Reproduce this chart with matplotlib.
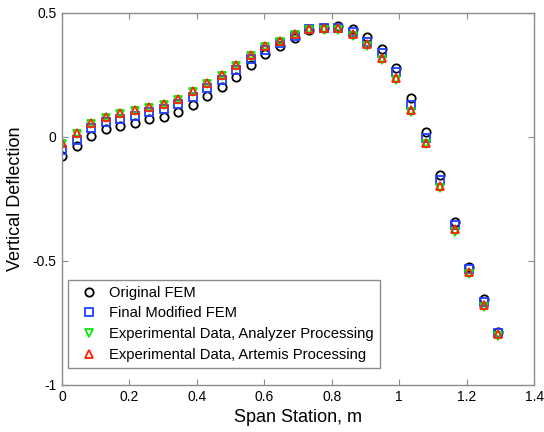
import matplotlib
matplotlib.use("Agg")
import matplotlib.pyplot as plt

plt.rcParams['font.family'] = ['Liberation Sans', 'DejaVu Sans']
plt.rcParams['axes.unicode_minus'] = False

span_station = [0.000, 0.043, 0.086, 0.129, 0.172, 0.216, 0.259, 0.302, 0.345, 0.388,
                0.431, 0.474, 0.517, 0.560, 0.603, 0.647, 0.690, 0.733, 0.776, 0.819,
                0.862, 0.905, 0.948, 0.991, 1.034, 1.078, 1.121, 1.164, 1.207, 1.250, 1.293]

original_fem = [-0.075, -0.036, 0.004, 0.032, 0.044, 0.058, 0.071, 0.082, 0.101, 0.129,
                0.165, 0.200, 0.243, 0.290, 0.333, 0.367, 0.400, 0.431, 0.438, 0.446,
                0.434, 0.404, 0.356, 0.278, 0.157, 0.018, -0.155, -0.341, -0.523, -0.655, -0.785]

final_modified_fem = [-0.051, -0.011, 0.035, 0.060, 0.074, 0.086, 0.099, 0.112, 0.132, 0.163,
                      0.196, 0.228, 0.271, 0.313, 0.352, 0.379, 0.409, 0.434, 0.438, 0.438,
                      0.425, 0.384, 0.337, 0.261, 0.129, -0.005, -0.173, -0.355, -0.534, -0.664, -0.792]

exp_analyzer = [-0.030, 0.010, 0.052, 0.077, 0.091, 0.105, 0.116, 0.130, 0.148, 0.181,
                0.215, 0.244, 0.286, 0.326, 0.362, 0.384, 0.411, 0.430, 0.432, 0.430,
                0.408, 0.365, 0.310, 0.230, 0.102, -0.030, -0.204, -0.382, -0.552, -0.684, -0.802]

exp_artemis = [-0.025, 0.015, 0.057, 0.082, 0.096, 0.110, 0.120, 0.134, 0.152, 0.185,
               0.219, 0.248, 0.290, 0.330, 0.366, 0.388, 0.416, 0.435, 0.438, 0.438,
               0.415, 0.374, 0.320, 0.239, 0.109, -0.023, -0.196, -0.371, -0.543, -0.677, -0.796]

labels = ['Original FEM', 'Final Modified FEM',
          'Experimental Data, Analyzer Processing', 'Experimental Data, Artemis Processing']

x_ticks = [0, 0.2, 0.4, 0.6, 0.8, 1.0, 1.2, 1.4]
x_tick_labels = ['0', '0.2', '0.4', '0.6', '0.8', '1', '1.2', '1.4']
y_ticks = [-1, -0.5, 0, 0.5]
y_tick_labels = ['-1', '-0.5', '0', '0.5']

fig = plt.figure(figsize=(5.44, 4.32), dpi=100)
ax = fig.add_axes([0.114, 0.109, 0.868, 0.861])

ms = 6
mew = 1.3
ax.plot(span_station, original_fem, linestyle='none', marker='o', mfc='none', mec='black',
        ms=ms, mew=mew, label=labels[0])
ax.plot(span_station, final_modified_fem, linestyle='none', marker='s', mfc='none', mec='#1f3fff',
        ms=ms - 0.5, mew=mew, label=labels[1])
ax.plot(span_station, exp_analyzer, linestyle='none', marker='v', mfc='none', mec='#00ee00',
        ms=ms, mew=mew, label=labels[2])
ax.plot(span_station, exp_artemis, linestyle='none', marker='^', mfc='none', mec='#ff2000',
        ms=ms, mew=mew, label=labels[3])

ax.set_xlim(0, 1.4)
ax.set_ylim(-1, 0.5)
ax.set_xticks(x_ticks)
ax.set_xticklabels(x_tick_labels)
ax.set_yticks(y_ticks)
ax.set_yticklabels(y_tick_labels)

spine_color = '#8c8c8c'
for s in ax.spines.values():
    s.set_color(spine_color)
    s.set_linewidth(1.0)
ax.tick_params(direction='in', top=True, right=True, color=spine_color, length=4,
               labelsize=10, labelcolor='black', pad=4)

ax.set_xlabel('Span Station, m', fontsize=13, labelpad=3)
ax.set_ylabel('Vertical Deflection', fontsize=13, labelpad=6)

leg = ax.legend(loc='lower left', bbox_to_anchor=(0.0127, 0.0457), borderaxespad=0,
                fontsize=10.6, frameon=True, fancybox=False, framealpha=1,
                edgecolor=spine_color, handlelength=2.1, handletextpad=0.31,
                labelspacing=0.46, borderpad=0.4, numpoints=1)
leg.get_frame().set_linewidth(1.0)

fig.savefig('out.png', dpi=100)
